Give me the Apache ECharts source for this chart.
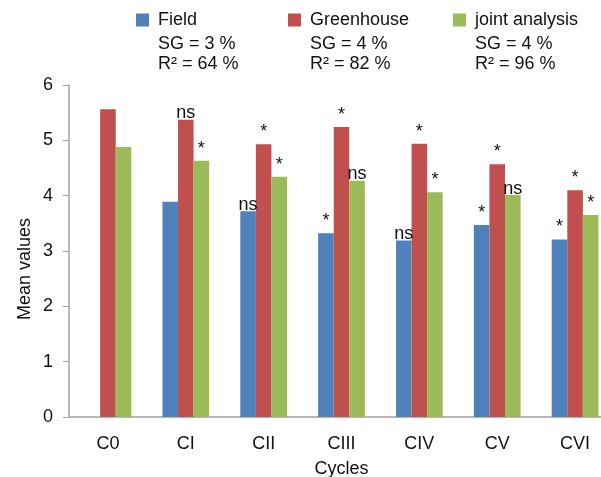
<!DOCTYPE html>
<html>
<head>
<meta charset="utf-8">
<script src="https://cdn.jsdelivr.net/npm/echarts@6/dist/echarts.min.js"></script>
<style>
html,body{margin:0;padding:0;background:#fff;}
#chart{width:601px;height:477px;}
</style>
</head>
<body>
<div id="chart"></div>
<script>
// ---- data ----
var categories = ['C0', 'CI', 'CII', 'CIII', 'CIV', 'CV', 'CVI'];
var seriesNames = ['Field', 'Greenhouse', 'joint analysis'];
var fieldValues = [null, 3.89, 3.72, 3.32, 3.19, 3.47, 3.21];
var greenhouseValues = [5.56, 5.37, 4.93, 5.24, 4.94, 4.57, 4.10];
var jointValues = [4.88, 4.63, 4.34, 4.27, 4.06, 4.01, 3.65];
var fieldMarks = ['', '', 'ns', '*', 'ns', '*', '*'];
var greenhouseMarks = ['', 'ns', '*', '*', '*', '*', '*'];
var jointMarks = ['', '*', '*', 'ns', '*', 'ns', '*'];
var sgLines = ['SG = 3 %', 'SG = 4 %', 'SG = 4 %'];
var r2Lines = ['R\u00B2 = 64 %', 'R\u00B2 = 82 %', 'R\u00B2 = 96 %'];
var yTicks = [0, 1, 2, 3, 4, 5, 6];

var colors = ['#4F81BD', '#C0504D', '#9BBB59'];
var FONT = "'Liberation Sans', Arial, sans-serif";
var TXT = '#111';

function buildData(values, marks) {
  return values.map(function (v, i) {
    var m = marks[i];
    return {
      value: v,
      label: {
        show: !!m,
        formatter: m || '',
        distance: m === '*' ? 3 : -2.5
      }
    };
  });
}

var legendLefts = [136, 288, 453];
var legends = seriesNames.map(function (n, i) {
  return {
    data: [n],
    left: legendLefts[i],
    top: 11,
    padding: 0,
    itemWidth: 13,
    itemHeight: 13,
    icon: 'rect',
    selectedMode: false,
    textStyle: { fontFamily: FONT, fontSize: 18, color: TXT, padding: [0, 0, 0, 4] }
  };
});

var graphics = [];
seriesNames.forEach(function (n, i) {
  graphics.push({
    type: 'text', left: legendLefts[i] + 22, top: 35,
    style: { text: sgLines[i], font: '18px ' + FONT, fill: TXT }
  });
  graphics.push({
    type: 'text', left: legendLefts[i] + 22, top: 55,
    style: { text: r2Lines[i], font: '18px ' + FONT, fill: TXT }
  });
});
graphics.push({
  type: 'text', x: 25, y: 269, rotation: Math.PI / 2,
  style: { text: 'Mean values', font: '18px ' + FONT, fill: TXT, align: 'center', verticalAlign: 'middle' }
});

var valueLists = [fieldValues, greenhouseValues, jointValues];
var markLists = [fieldMarks, greenhouseMarks, jointMarks];

var option = {
  animation: false,
  color: colors,
  textStyle: { fontFamily: FONT },
  legend: legends,
  graphic: graphics,
  grid: { left: 69, right: -13, top: 85, bottom: 60, containLabel: false, outerBoundsMode: 'none' },
  xAxis: {
    type: 'category',
    data: categories,
    name: 'Cycles',
    nameLocation: 'middle',
    nameGap: 43,
    nameTextStyle: { fontFamily: FONT, fontSize: 18, color: TXT },
    axisLine: { lineStyle: { color: '#a0a0a0', width: 1.5 } },
    axisTick: { show: false },
    axisLabel: { fontFamily: FONT, fontSize: 18, color: TXT, margin: 18 }
  },
  yAxis: {
    type: 'value',
    min: yTicks[0],
    max: yTicks[yTicks.length - 1],
    interval: 1,
    splitLine: { show: false },
    axisLine: { show: true, lineStyle: { color: '#a0a0a0', width: 1.5 } },
    axisTick: { show: true, length: 6, lineStyle: { color: '#a0a0a0' } },
    axisLabel: { fontFamily: FONT, fontSize: 18, color: TXT, margin: 16 }
  },
  series: seriesNames.map(function (n, i) {
    return {
      name: n,
      type: 'bar',
      barGap: '0%',
      barCategoryGap: '40%',
      data: buildData(valueLists[i], markLists[i]),
      label: { position: 'top', fontFamily: FONT, fontSize: 18, color: TXT }
    };
  })
};

var chart = echarts.init(document.getElementById('chart'), null, { renderer: 'canvas' });
chart.setOption(option);
</script>
</body>
</html>
